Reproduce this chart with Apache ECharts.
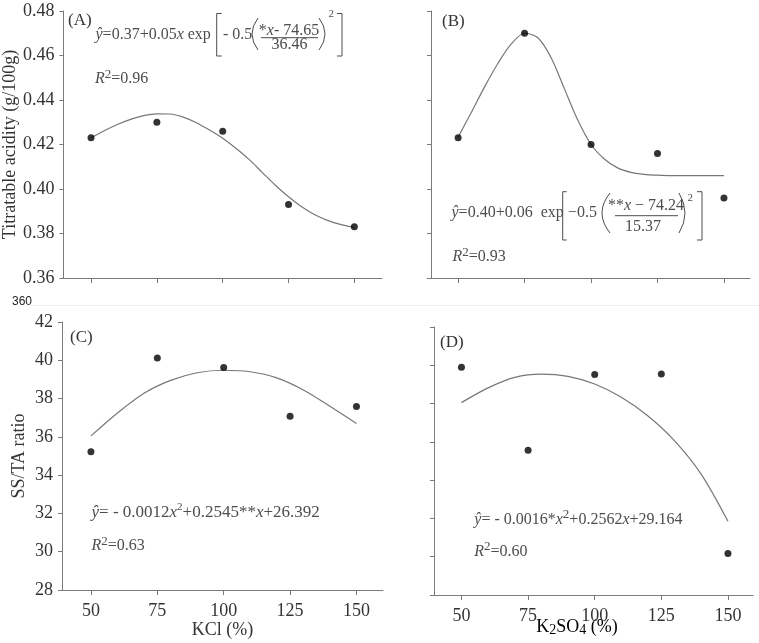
<!DOCTYPE html>
<html>
<head>
<meta charset="utf-8">
<script src="https://cdn.jsdelivr.net/npm/echarts@6/dist/echarts.min.js"></script>
<style>
  html, body { margin: 0; padding: 0; background: #fff; }
  #chart { width: 759px; height: 643px; }
</style>
</head>
<body>
<div id="chart"></div>
<script>
// treatment levels (% of recommended K dose)
const xLevels = [50, 75, 100, 125, 150];
const xTicks = [50, 75, 100, 125, 150];

// observed means
const acidKCl = [0.423, 0.430, 0.426, 0.393, 0.383];
const acidK2SO4 = [0.423, 0.470, 0.420, 0.416, 0.396];
const ratioKCl = [35.22, 40.12, 39.62, 37.08, 37.59];
const ratioK2SO4 = [39.90, 35.56, 39.52, 39.54, 30.17];

// fitted curves
const fitX5 = [50, 55, 60, 65, 70, 75, 80, 85, 90, 95, 100, 105, 110, 115, 120, 125, 130, 135, 140, 145, 150];
const fitAcidKCl = [0.4230, 0.4262, 0.4290, 0.4313, 0.4330, 0.4338, 0.4337, 0.4323, 0.4298, 0.4265, 0.4228,
  0.4183, 0.4133, 0.4075, 0.4017, 0.3965, 0.3920, 0.3884, 0.3858, 0.3840, 0.3827];
const fitAcidK2SO4 = [0.4233, 0.4345, 0.4460, 0.4565, 0.4652, 0.4700, 0.4680, 0.4590, 0.4450, 0.4310, 0.4200,
  0.4135, 0.4095, 0.4075, 0.4066, 0.4062, 0.4060, 0.4060, 0.4060, 0.4060, 0.4060];
const fitX10 = [50, 60, 70, 80, 90, 100, 110, 120, 130, 140, 150];
const fitRatioKCl = [36.05, 37.25, 38.28, 38.95, 39.35, 39.48, 39.40, 39.08, 38.45, 37.60, 36.70];
const fitRatioK2SO4 = [38.05, 38.82, 39.37, 39.54, 39.42, 39.02, 38.33, 37.35, 36.05, 34.30, 31.85];

const SERIF = '"Liberation Serif", "Times New Roman", serif';
const AXIS = '#7a7a7a';
const LABEL = '#333';
const EQ = '#4d4d4d';

const pairs = (xs, ys) => xs.map((x, i) => [x, ys[i]]);

function xAxisFor(grid, min, max, showLabels, name) {
  return {
    type: 'value', gridIndex: grid, min, max,
    axisLine: { show: true, onZero: false, lineStyle: { color: AXIS, width: 1 } },
    axisTick: { show: true, length: 5, customValues: xTicks, lineStyle: { color: AXIS } },
    axisLabel: { show: showLabels, customValues: xTicks, margin: 12, fontFamily: SERIF, fontSize: 18, color: LABEL },
    splitLine: { show: false },
    name: name || '', nameLocation: 'middle', nameGap: 29,
    nameTextStyle: { fontFamily: SERIF, fontSize: 18, color: LABEL }
  };
}

function yAxisFor(grid, min, max, interval, showLabels, digits, name, gap) {
  return {
    type: 'value', gridIndex: grid, min, max, interval,
    axisLine: { show: true, onZero: false, lineStyle: { color: AXIS, width: 1 } },
    axisTick: { show: true, length: 4, lineStyle: { color: AXIS } },
    axisLabel: {
      show: showLabels, margin: 9, fontFamily: SERIF, fontSize: 18, color: LABEL,
      formatter: (v) => v.toFixed(digits)
    },
    splitLine: { show: false },
    name: name || '', nameLocation: 'middle', nameRotate: 90, nameGap: gap || 40,
    nameTextStyle: { fontFamily: SERIF, fontSize: 18, color: LABEL }
  };
}

function dots(i, ys) {
  return {
    type: 'scatter', xAxisIndex: i, yAxisIndex: i, data: pairs(xLevels, ys),
    symbolSize: 7, itemStyle: { color: '#000' }, z: 4
  };
}

function fit(i, xs, ys) {
  return {
    type: 'line', xAxisIndex: i, yAxisIndex: i, data: pairs(xs, ys),
    smooth: 0.3, showSymbol: false, symbol: 'none',
    lineStyle: { color: '#777', width: 1.2 }, z: 3
  };
}

// --- equation helpers (graphic) ---
const richStyles = (size) => ({
  n: { fontFamily: SERIF, fontSize: size, color: EQ },
  i: { fontFamily: SERIF, fontSize: size, fontStyle: 'italic', color: EQ },
  sup: { fontFamily: SERIF, fontSize: 13, color: EQ, padding: [0, 0, 9, 0] },
  sm: { fontFamily: SERIF, fontSize: 11, color: EQ, padding: [0, 0, 10, 0] }
});

function txt(x, y, text, size, align, fill) {
  return {
    type: 'text', x, y, silent: true,
    style: {
      text, font: size + 'px ' + SERIF, fill: fill || EQ,
      align: align || 'left', verticalAlign: 'middle',
      textAlign: align || 'left', textVerticalAlign: 'middle',
      rich: richStyles(size)
    }
  };
}

function seg(x1, y1, x2, y2) {
  return { type: 'line', silent: true, shape: { x1, y1, x2, y2 }, style: { stroke: EQ, lineWidth: 1 } };
}

function bracket(xOuter, xInner, y1, y2) {
  return {
    type: 'polyline', silent: true,
    shape: { points: [[xInner, y1], [xOuter, y1], [xOuter, y2], [xInner, y2]] },
    style: { stroke: EQ, lineWidth: 1, fill: null }
  };
}

function paren(xEnd, xCtrl, y1, y2) {
  return {
    type: 'bezierCurve', silent: true,
    shape: { x1: xEnd, y1, x2: xEnd, y2, cpx1: xCtrl, cpy1: (y1 + y2) / 2 },
    style: { stroke: EQ, lineWidth: 1, fill: null }
  };
}

const graphics = [
  // page number + faint page line
  { type: 'line', silent: true, shape: { x1: 30, y1: 305.5, x2: 759, y2: 305.5 }, style: { stroke: '#efefef', lineWidth: 1 } },
  { type: 'text', x: 12, y: 302, silent: true,
    style: { text: '360', font: '12px "Liberation Sans", sans-serif', fill: '#222', align: 'left', verticalAlign: 'middle' } },

  // panel letters
  txt(68, 21, '(A)', 17, 'left', LABEL),
  txt(442, 22, '(B)', 17, 'left', LABEL),
  txt(70, 338, '(C)', 17, 'left', LABEL),
  txt(440, 343, '(D)', 17, 'left', LABEL),

  // (A) equation
  txt(95.5, 35, '{i|ŷ}{n|=0.37+0.05}{i|x}{n| exp}', 16),
  bracket(216.7, 221.7, 13.5, 56),
  txt(223, 35, '- 0.5', 16),
  paren(258, 246, 18, 50),
  txt(289, 30.5, '{n|*}{i|x}{n|- 74.65}', 16, 'center'),
  seg(261, 37.7, 318, 37.7),
  txt(289.5, 44.5, '36.46', 16, 'center'),
  paren(319, 331, 18, 50),
  txt(328.5, 14, '2', 11),
  bracket(342, 337, 13.5, 56),
  txt(95, 79, '{i|R}{sup|2}{n|=0.96}', 16),

  // (B) equation
  txt(451.5, 213, '{i|ŷ}{n|=0.40+0.06  exp}', 16),
  bracket(562.7, 566.7, 191.7, 240),
  txt(568, 213, '\u22120.5', 16),
  paren(610, 594, 193, 233),
  txt(646, 206, '{n|**}{i|x}{n| \u2212 74.24}', 16, 'center'),
  seg(615, 215.7, 678, 215.7),
  txt(643, 227, '15.37', 16, 'center'),
  paren(679, 691, 193, 233),
  txt(687.5, 198.5, '2', 11),
  bracket(702, 697, 191.7, 240),
  txt(452.5, 257, '{i|R}{sup|2}{n|=0.93}', 16),

  // (C) equation
  txt(91.5, 512.5, '{i|ŷ}{n|= - 0.0012}{i|x}{sm|2}{n|+0.2545**}{i|x}{n|+26.392}', 17),
  txt(91.5, 546, '{i|R}{sup|2}{n|=0.63}', 16),

  // (D) equation
  txt(474.3, 519.3, '{i|ŷ}{n|= - 0.0016*}{i|x}{sup|2}{n|+0.2562}{i|x}{n|+29.164}', 16),
  txt(474.3, 551.5, '{i|R}{sup|2}{n|=0.60}', 16),

  // K2SO4 axis title with subscripts
  {
    type: 'text', x: 577, y: 627, silent: true,
    style: {
      text: '{n|K}{sub|2}{n|SO}{sub|4}{n| (%)}', align: 'center', verticalAlign: 'middle',
      textAlign: 'center', textVerticalAlign: 'middle',
      rich: {
        n: { fontFamily: SERIF, fontSize: 18, color: LABEL },
        sub: { fontFamily: SERIF, fontSize: 14, color: LABEL, padding: [7, 0, 0, 0] }
      }
    }
  }
];

const chart = echarts.init(document.getElementById('chart'), null, { renderer: 'canvas' });
chart.setOption({
  animation: false,
  backgroundColor: '#fff',
  grid: [
    { left: 60, top: 11, width: 322, height: 267 },
    { left: 431, top: 11, width: 319, height: 267 },
    { left: 62, top: 322, width: 321, height: 268 },
    { left: 434, top: 327, width: 319, height: 268 }
  ],
  xAxis: [
    xAxisFor(0, 39.5, 160.5, false),
    xAxisFor(1, 39.8, 159.8, false),
    xAxisFor(2, 39.1, 160, true, 'KCl (%)'),
    xAxisFor(3, 39.7, 159.4, true)
  ],
  yAxis: [
    yAxisFor(0, 0.36, 0.48, 0.02, true, 2, 'Titratable acidity (g/100g)', 41),
    yAxisFor(1, 0.36, 0.48, 0.02, false, 2),
    yAxisFor(2, 28, 42, 2, true, 0, 'SS/TA ratio', 34),
    yAxisFor(3, 28, 42, 2, false, 0)
  ],
  series: [
    fit(0, fitX5, fitAcidKCl), dots(0, acidKCl),
    fit(1, fitX5, fitAcidK2SO4), dots(1, acidK2SO4),
    fit(2, fitX10, fitRatioKCl), dots(2, ratioKCl),
    fit(3, fitX10, fitRatioK2SO4), dots(3, ratioK2SO4)
  ],
  graphic: graphics
});
</script>
</body>
</html>
